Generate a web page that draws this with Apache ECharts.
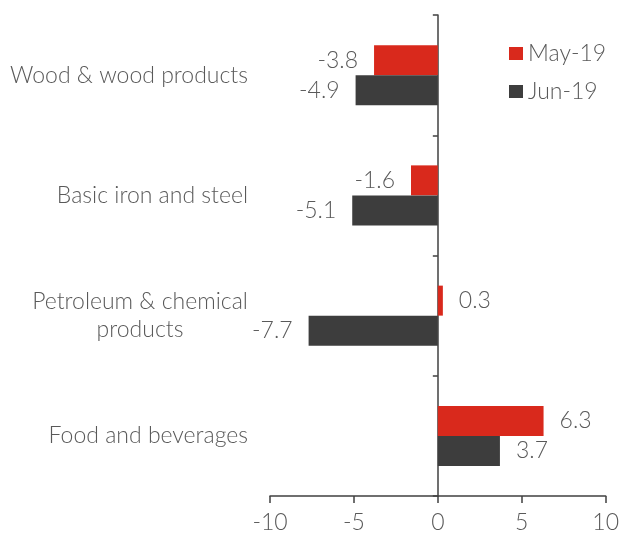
<!DOCTYPE html>
<html><head><meta charset="utf-8">
<script src="https://cdn.jsdelivr.net/npm/echarts@6/dist/echarts.min.js"></script>
<style>html,body{margin:0;padding:0;background:#fff;overflow:hidden;}#c{width:622px;height:536px;}</style>
</head><body><div id="c"></div>
<script>
const categories = ['Wood & wood products', 'Basic iron and steel', 'Petroleum & chemical\nproducts', 'Food and beverages'];
const seriesNames = ['May-19', 'Jun-19'];
const may19 = [-3.8, -1.6, 0.3, 6.3];
const jun19 = [-4.9, -5.1, -7.7, 3.7];
const xTicks = [-10, -5, 0, 5, 10];

const FONT = 'Lato';
const FS = 23;
const FW = 300;
const TXT = '#595959';
const AX = '#404040';
function toData(arr) {
  return arr.map(v => ({ value: v, label: { position: v < 0 ? 'left' : 'right' } }));
}
// measure widest line of multi-line labels so lines can be centred within the block
const ctx = document.createElement('canvas').getContext('2d');
ctx.font = FW + ' ' + FS + 'px ' + FONT;
const labelRich = { c: { fontFamily: FONT, fontSize: FS, fontWeight: FW, color: TXT, align: 'center', lineHeight: 28 } };
function catLabel(v) {
  if (v.indexOf('\n') < 0) return v;
  const lines = v.split('\n');
  const w = Math.ceil(Math.max(...lines.map(l => ctx.measureText(l).width)));
  labelRich.c.width = w;
  return lines.map(l => '{c|' + l + '}').join('\n');
}
categories.forEach(c => catLabel(c));
const chart = echarts.init(document.getElementById('c'), null, { renderer: 'canvas' });
chart.setOption({
  animation: false,
  textStyle: { fontFamily: FONT },
  grid: { left: 270, right: 10, top: 15, bottom: 40, containLabel: false },
  legend: {
    orient: 'vertical', left: 504, top: 37, itemWidth: 14, itemHeight: 13, itemGap: 15, itemStyle: { borderWidth: 0 },
    icon: 'rect',
    textStyle: { fontFamily: FONT, fontSize: FS, fontWeight: FW, color: TXT },
    data: seriesNames
  },
  xAxis: {
    type: 'value', min: xTicks[0], max: xTicks[xTicks.length - 1], interval: 5,
    splitLine: { show: false },
    axisLine: { show: true, onZero: false, lineStyle: { color: AX, width: 1.5 } },
    axisTick: { show: true, length: 7, lineStyle: { color: AX, width: 1.5 } },
    axisLabel: { fontFamily: FONT, fontSize: FS, fontWeight: FW, color: TXT, margin: 15 }
  },
  yAxis: [{
    type: 'category', inverse: true, data: categories, position: 'left',
    axisLine: { show: false, onZero: false }, axisTick: { show: false },
    axisLabel: { fontFamily: FONT, fontSize: FS, fontWeight: FW, color: TXT, margin: 22, lineHeight: 28, align: 'right',
      formatter: v => catLabel(v), rich: labelRich }
  }, {
    type: 'category', inverse: true, data: categories, position: 'left',
    axisLine: { show: true, onZero: true, lineStyle: { color: AX, width: 1.5 } },
    axisTick: { show: true, length: 5, lineStyle: { color: AX, width: 1.5 } },
    axisLabel: { show: false }
  }],
  series: [{
    name: seriesNames[0], type: 'bar', yAxisIndex: 0, barWidth: 30, barGap: '0%',
    itemStyle: { color: '#D9291C' },
    label: { show: true, distance: 16, fontFamily: FONT, fontSize: FS, fontWeight: FW, color: TXT, formatter: p => p.value.toFixed(1) },
    data: toData(may19)
  }, {
    name: seriesNames[1], type: 'bar', yAxisIndex: 0, barWidth: 30, barGap: '0%',
    itemStyle: { color: '#3D3D3D' },
    label: { show: true, distance: 16, fontFamily: FONT, fontSize: FS, fontWeight: FW, color: TXT, formatter: p => p.value.toFixed(1) },
    data: toData(jun19)
  }]
});
</script></body></html>
